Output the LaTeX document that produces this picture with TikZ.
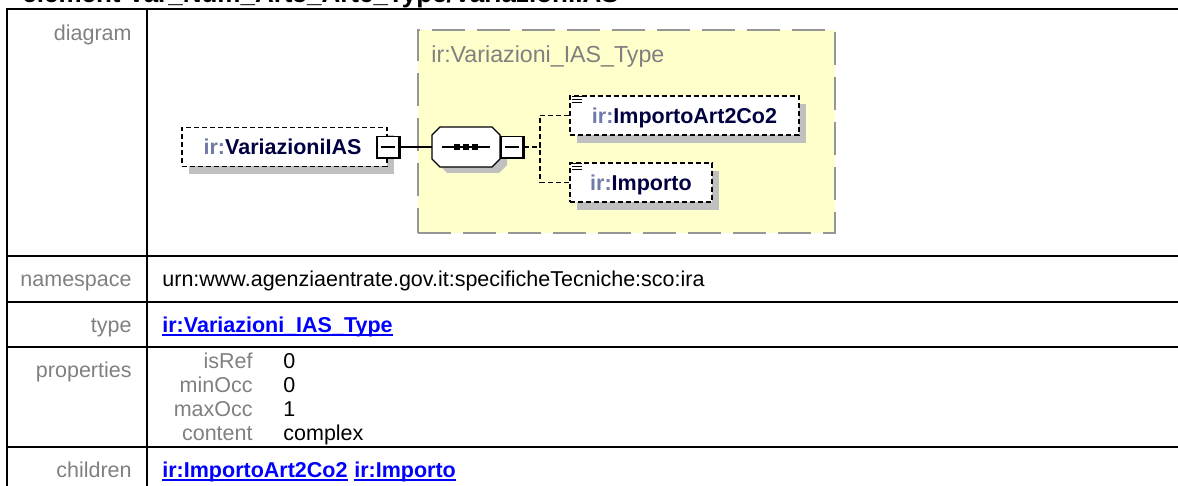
\documentclass[tikz,border=0pt]{standalone}
\usepackage{fontspec}
\setmainfont{Liberation Sans}
\usepackage{xcolor}
\usepackage{tikz}
\usetikzlibrary{positioning,shadows}

\definecolor{lblgray}{RGB}{128,128,128}
\definecolor{linkblue}{RGB}{0,0,255}
\definecolor{typeyellow}{RGB}{255,255,204}
\definecolor{typeborder}{RGB}{150,150,150}
\definecolor{shadowgray}{RGB}{192,192,192}
\definecolor{nsprefix}{RGB}{112,122,168}
\definecolor{elemname}{RGB}{0,0,64}

\newcommand{\elname}[1]{\textcolor{nsprefix}{ir:}\textcolor{elemname}{#1}}

\begin{document}
\begin{tikzpicture}[x=0.5pt, y=-0.5pt,
  txt/.style={font=\fontsize{10.75}{13}\selectfont, inner sep=0pt},
  lbl/.style={txt, text=lblgray, anchor=base east},
  val/.style={txt, anchor=base west},
  link/.style={txt, font=\fontsize{10.75}{13}\selectfont\bfseries, text=linkblue, anchor=base west},
  ulink/.style={linkblue, line width=0.9pt},
  grid/.style={line width=1.3pt},
  conn/.style={line width=0.8pt, dash pattern=on 2.5pt off 1.5pt},
  elem/.style={txt, font=\fontsize{10.75}{13}\selectfont\bfseries, draw, fill=white,
    line width=0.8pt, dash pattern=on 2.5pt off 1.5pt, minimum height=19.5pt, text depth=0pt,
    drop shadow={shadow xshift=3.5pt, shadow yshift=-4pt, fill=shadowgray, opacity=1}},
  minus/.style={draw, fill=white, line width=0.7pt, minimum width=11pt, minimum height=10.5pt,
    inner sep=0pt, path picture={\draw[line width=0.7pt]
      ([xshift=2pt]path picture bounding box.west) -- ([xshift=-2pt]path picture bounding box.east);}},
  seqbox/.style={minimum width=34pt, minimum height=20pt, inner sep=0pt},
  typebox/.style={draw=typeborder, fill=typeyellow, line width=1pt, dash pattern=on 16.5pt off 6pt,
    minimum width=208.5pt, minimum height=101.5pt, inner sep=0pt}]

  \useasboundingbox (0,0) rectangle (1178,486);
  \clip (0,0) rectangle (1178,486);

  %% Title, cut by the top edge
  \node[txt, font=\fontsize{13}{15}\selectfont\bfseries, anchor=base west] (title) at (22,3)
    {element Var\_Num\_Art5\_Art6\_Type/VariazioniIAS};

  %% Table rules
  \draw[grid] (7,490) -- (7,9) -- (1180,9);
  \draw[grid] (147,9) -- (147,490);
  \foreach \y in {256,302,347,447}
    \draw[grid] (7,\y) -- (1180,\y);

  %% Row labels
  \foreach \t/\y in {diagram/41, namespace/286, type/332, properties/377, children/477}
    \node[lbl] (lbl-\t) at (132,\y) {\t};

  %% Row values
  \node[val] (ns) at (162,286) {urn:www.agenziaentrate.gov.it:specificheTecniche:sco:ira};
  \node[link] (typelink) at (162,332) {ir:Variazioni\_IAS\_Type};
  \foreach \k/\v/\y in {isRef/0/368, minOcc/0/392, maxOcc/1/416, content/complex/440} {
    \node[lbl] (key-\k) at (253,\y) {\k};
    \node[val] (val-\k) at (283,\y) {\v};
  }
  \node[link] (child1) at (162,477) {ir:ImportoArt2Co2};
  \node[link, base right=3pt of child1] (child2) {ir:Importo};
  \foreach \n in {typelink, child1, child2}
    \draw[ulink] ([yshift=-1.6pt]\n.base west) -- ([yshift=-1.6pt]\n.base east);

  %% Complex type container
  \node[typebox] (ctype) at (626.5,131.5) {};
  \node[txt, font=\fontsize{11.6}{14}\selectfont, text=lblgray, anchor=base west] (ctitle)
    at (431,63) {ir:Variazioni\_IAS\_Type};

  %% Element, sequence compositor (octagon with its shadow)
  \node[elem, minimum width=102.5pt] (varias) at (284.5,147) {\elname{VariazioniIAS}\hspace*{2pt}};
  \node[minus] (m1) at (varias.east) {};
  \fill[shadowgray, shift={(7,6)}]
    (432,135) -- (440,127) -- (492,127) -- (500,135) -- (500,159) -- (492,167) -- (440,167) -- (432,159) -- cycle;
  \draw[fill=white, line width=0.7pt]
    (432,135) -- (440,127) -- (492,127) -- (500,135) -- (500,159) -- (492,167) -- (440,167) -- (432,159) -- cycle;
  \node[seqbox] (seq) at (466,147) {};
  \node[minus, anchor=west] (m2) at (seq.east) {};
  \draw[line width=0.7pt] (m1.east) -- (seq.west);
  \foreach \m in {m1,m2}
    \draw[line width=1.2pt] (\m.north east) -- (\m.south east) -- (\m.south west);
  \draw[line width=0.7pt] ([xshift=-12pt]seq.center) -- ([xshift=12pt]seq.center);
  \foreach \d in {-4.5pt,0pt,4.5pt}
    \fill ([xshift=\d]seq.center) +(-1.3pt,-1.3pt) rectangle +(1.3pt,1.3pt);

  %% Child elements
  \node[elem, minimum width=114.5pt] (c1) at (684.5,115.5) {\elname{ImportoArt2Co2}};
  \node[elem, minimum width=71pt] (c2) at (641,182.5) {\elname{Importo}};
  \coordinate (jn) at (540,147);
  \draw[conn] (m2.east) -- (jn);
  \draw[conn] (c1.west) -| (jn) |- (c2.west);
  \foreach \c in {c1,c2}
    \foreach \k in {0.75pt,2.25pt,3.75pt}
      \draw[line width=0.5pt] ([xshift=1.5pt,yshift=-\k]\c.north west) -- ++(5pt,0);
\end{tikzpicture}
\end{document}
